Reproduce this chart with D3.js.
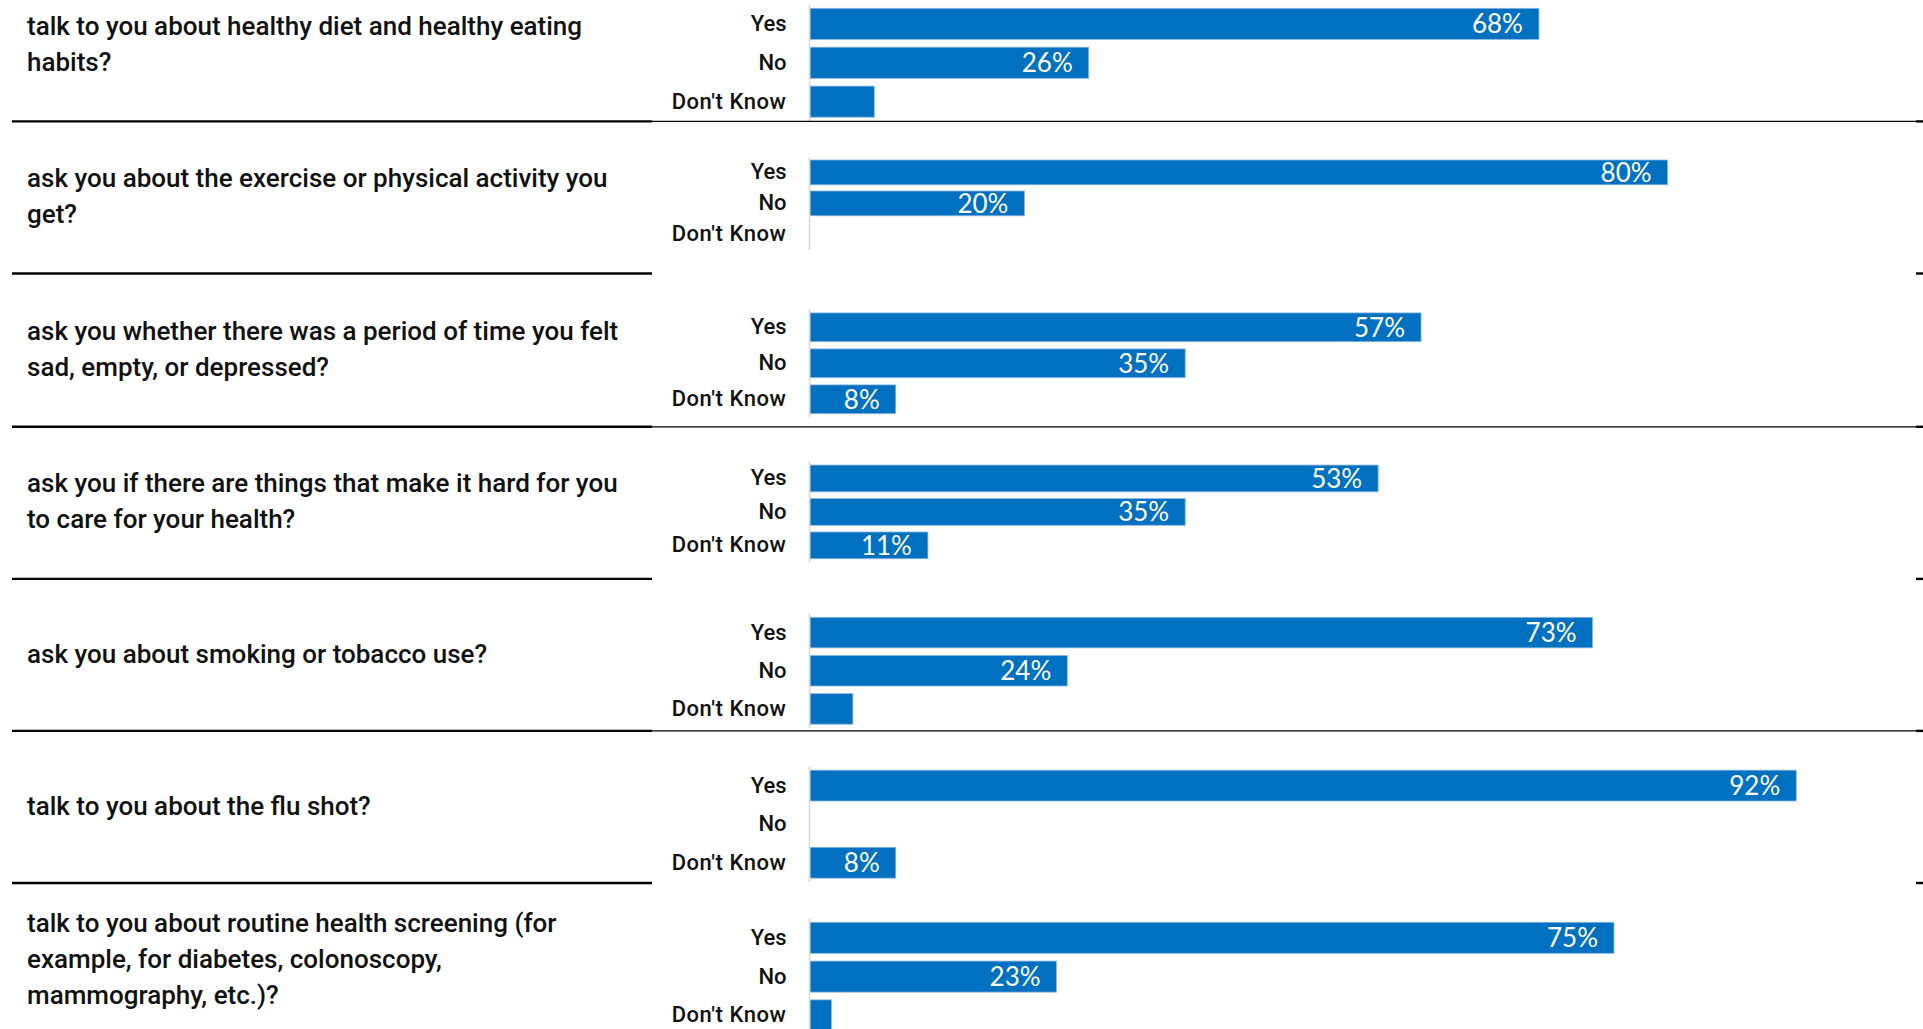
<!DOCTYPE html>
<html>
<head>
<meta charset="utf-8">
<script src="https://cdn.jsdelivr.net/npm/d3@7"></script>
<style>
  html, body { margin: 0; padding: 0; background: #ffffff; }
  svg { display: block; }
</style>
</head>
<body>
<svg id="chart" width="1923" height="1029"></svg>
<script>
// Survey responses: did your provider ...
const categories = ["Yes", "No", "Don't Know"];

const questions = [
  ["talk to you about healthy diet and healthy eating", "habits?"],
  ["ask you about the exercise or physical activity you", "get?"],
  ["ask you whether there was a period of time you felt", "sad, empty, or depressed?"],
  ["ask you if there are things that make it hard for you", "to care for your health?"],
  ["ask you about smoking or tobacco use?"],
  ["talk to you about the flu shot?"],
  ["talk to you about routine health screening (for", "example, for diabetes, colonoscopy,", "mammography, etc.)?"]
];

const yesValues      = [68, 80, 57, 53, 73, 92, 75];
const noValues       = [26, 20, 35, 35, 24, 0, 23];
const dontKnowValues = [6, 0, 8, 11, 4, 8, 2];

// shares below this are drawn without a value label
const labelMin = 7;

// Row layout: plot band extent, first text baseline, rule below the row
const rows = [
  { plot: [4.4, 121.1],   text: 35,    rule: 121.4, full: true  },
  { plot: [156.9, 249.9], text: 187,   rule: 273.5, full: false },
  { plot: [309.3, 417.3], text: 340,   rule: 426.8, full: true  },
  { plot: [461.7, 562.1], text: 491.7, rule: 578.9, full: false },
  { plot: [613.5, 728.0], text: 662.7, rule: 730.9, full: true  },
  { plot: [766.3, 882.0], text: 815,   rule: 883.0, full: false },
  { plot: [918.4, 1034.8], text: 931.7, rule: null,  full: false }
];

const W = 1923, H = 1029;
const barColor = "#0070C0";
const svg = d3.select("#chart");

const x = d3.scaleLinear().domain([0, 100]).range([810, 1882]);

rows.forEach((row, i) => {
  const data = [
    { cat: categories[0], v: yesValues[i] },
    { cat: categories[1], v: noValues[i] },
    { cat: categories[2], v: dontKnowValues[i] }
  ];

  const y = d3.scaleBand()
    .domain(categories)
    .range(row.plot)
    .paddingInner(0.2)
    .paddingOuter(0.1);

  const g = svg.append("g").attr("class", "row");

  // question text
  const q = g.append("text")
    .attr("x", 27)
    .attr("y", row.text)
    .style("font-family", "Roboto, 'Liberation Sans', sans-serif")
    .style("font-weight", 500)
    .style("font-size", "26px")
    .attr("fill", "#111");
  questions[i].forEach((line, k) => {
    q.append("tspan").attr("x", 27).attr("dy", k === 0 ? 0 : 36).text(line);
  });

  // bars
  g.selectAll("rect.bar")
    .data(data.filter(d => d.v > 0))
    .join("rect")
    .attr("class", "bar")
    .attr("x", x(0))
    .attr("y", d => y(d.cat))
    .attr("width", d => x(d.v) - x(0))
    .attr("height", y.bandwidth())
    .attr("fill", barColor)
    .attr("stroke", "#8fb8e3")
    .attr("stroke-width", 0.8);

  // category axis
  const axis = g.append("g")
    .attr("transform", `translate(${x(0) - 0.5},0)`)
    .call(d3.axisLeft(y).tickSize(0).tickPadding(23));
  axis.select(".domain")
    .attr("stroke", "#d9d9d9")
    .attr("stroke-width", 1.6)
    .attr("d", `M0,${row.plot[0]}V${row.plot[1]}`);
  axis.selectAll(".tick text")
    .style("font-family", "Roboto, 'Liberation Sans', sans-serif")
    .style("font-weight", 500)
    .style("font-size", "22px")
    .style("letter-spacing", d => d.length > 3 ? "0.55px" : "0px")
    .attr("fill", "#111");

  // value labels
  g.selectAll("text.val")
    .data(data.filter(d => d.v >= labelMin))
    .join("text")
    .attr("class", "val")
    .attr("x", d => x(d.v) - 16)
    .attr("y", d => y(d.cat) + y.bandwidth() / 2)
    .attr("dy", "0.36em")
    .attr("text-anchor", "end")
    .style("font-family", "Lato, 'Open Sans', sans-serif")
    .style("font-size", "26px")
    .attr("fill", "#ffffff")
    .text(d => d.v + "%");

  // rule under the row
  if (row.rule !== null) {
    g.append("line")
      .attr("x1", 12).attr("x2", 652)
      .attr("y1", row.rule).attr("y2", row.rule)
      .attr("stroke", "#000").attr("stroke-width", 2.4);
    if (row.full) {
      g.append("line")
        .attr("x1", 652).attr("x2", 1916)
        .attr("y1", row.rule).attr("y2", row.rule)
        .attr("stroke", "#000").attr("stroke-width", 1.2);
    }
    g.append("line")
      .attr("x1", 1916).attr("x2", W)
      .attr("y1", row.rule).attr("y2", row.rule)
      .attr("stroke", "#000").attr("stroke-width", 2.4);
  }
});
</script>
</body>
</html>
